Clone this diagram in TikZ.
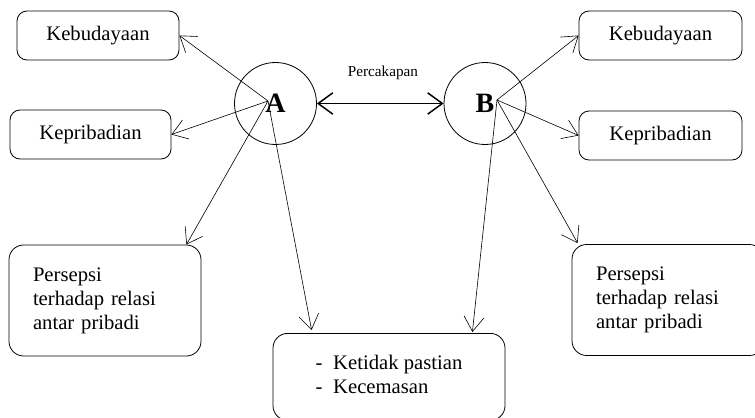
\documentclass[tikz,border=0pt]{standalone}
\usepackage{fontspec}
\setmainfont{Liberation Serif}
\usetikzlibrary{arrows.meta,calc}
\begin{document}
\begin{tikzpicture}[x=0.75pt,y=-0.75pt,
 box/.style={draw, line width=0.6pt, rounded corners=7.5pt, font=\fontsize{15.5}{18}\selectfont, inner sep=0pt},
 small/.style={box, minimum height=36.75pt},
 pers/.style={box, rounded corners=11pt, minimum width=144pt, minimum height=83.25pt, text width=108pt, align=left},
 circ/.style={draw, circle, line width=0.6pt, minimum size=61.5pt, inner sep=0pt, font=\fontsize{21}{24}\selectfont\bfseries},
 link/.style={line width=0.45pt, -{Straight Barb[length=11pt,width=15pt]}},
 talk/.style={line width=1.1pt, {Straight Barb[length=11pt,width=16pt]}-{Straight Barb[length=11pt,width=16pt]}},
 lbl/.style={font=\fontsize{11.4}{13}\selectfont, inner sep=0pt}
]
\useasboundingbox (0,0) rectangle (755,417);
\clip (0,0) rectangle (755,417);
\fill[white] (0,0) rectangle (755,417);

\node[small, minimum width=121.5pt] (kebL) at (98,35.5) {Kebudayaan};
\node[small, minimum width=120.75pt] (kepL) at (90.5,134.5) {Kepribadian};
\node[small, minimum width=122.25pt] (kebR) at (660.5,35.5) {Kebudayaan};
\node[small, minimum width=122.25pt] (kepR) at (660.5,135.5) {Kepribadian};
\node[pers] (perL) at (105,300.5) {Persepsi\\terhadap relasi\\antar pribadi};
\node[pers] (perR) at (668,300) {Persepsi\\terhadap relasi\\antar pribadi};
\node[box, rounded corners=11pt, minimum width=174pt, minimum height=65.25pt, anchor=north] (ket) at (389,333)
  {\begin{tabular}{@{}l@{\hspace{8pt}}l@{}}-&Ketidak pastian\\-&Kecemasan\end{tabular}};

\node[circ] (A) at (275.5,103.5) {A};
\node[circ] (B) at (485,103.5) {B};
\coordinate (a0) at (268,101);
\coordinate (b0) at (497,100);

\node[lbl] (talklbl) at (383,73) {Percakapan};
\draw[talk] (A) -- (B);

\draw[link] (a0) -- (kebL.east);
\draw[link] (a0) -- (kepL.east);
\draw[link] (a0) -- ($(perL.north east)+(-15,0)$);
\draw[link] (a0) -- ($(ket.north west)+(39,-3)$);
\draw[link] (b0) -- (kebR.west);
\draw[link] (b0) -- (kepR.west);
\draw[link] (b0) -- ($(perR.north west)+(6,-1)$);
\draw[link] (b0) -- ($(ket.north east)+(-33,-1)$);
\end{tikzpicture}
\end{document}
